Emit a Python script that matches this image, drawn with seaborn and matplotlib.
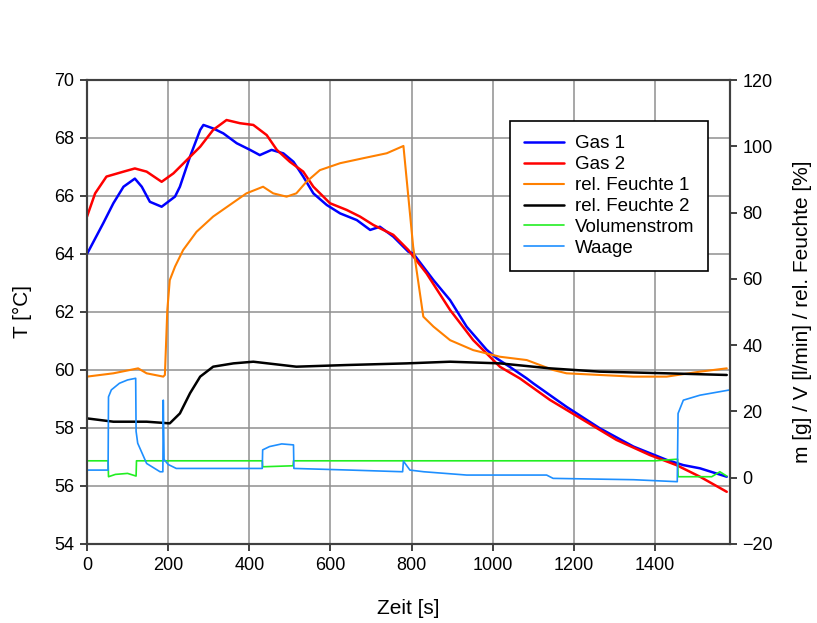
import matplotlib
matplotlib.use("Agg")
import matplotlib.pyplot as plt
import seaborn as sns
import pandas as pd

# ---------------- data ----------------
gas1_t = [0, 40, 65, 90, 118, 135, 155, 184, 217, 229, 254, 279, 287, 311, 336, 369, 402,
          426, 455, 484, 509, 533, 558, 591, 624, 665, 698, 722, 755, 792, 804, 854, 895,
          936, 985, 1010, 1043, 1084, 1100, 1182, 1264, 1347, 1429, 1470, 1511, 1577]
gas1_T = [64.0, 65.06, 65.75, 66.32, 66.6, 66.32, 65.8, 65.63, 65.98, 66.32, 67.36, 68.28,
          68.45, 68.33, 68.16, 67.82, 67.59, 67.41, 67.59, 67.47, 67.18, 66.67, 66.09, 65.69,
          65.4, 65.17, 64.83, 64.94, 64.6, 64.08, 64.02, 63.1, 62.41, 61.49, 60.7, 60.4, 60.1,
          59.71, 59.54, 58.73, 57.99, 57.36, 56.9, 56.72, 56.61, 56.32]

gas2_t = [0, 20, 48, 90, 118, 147, 184, 213, 246, 279, 311, 344, 377, 410, 443, 468, 500,
          533, 558, 599, 640, 673, 706, 755, 792, 837, 895, 952, 1018, 1067, 1141, 1223,
          1305, 1387, 1453, 1511, 1577]
gas2_T = [65.29, 66.09, 66.67, 66.84, 66.95, 66.84, 66.49, 66.78, 67.24, 67.7, 68.28, 68.62,
          68.51, 68.45, 68.1, 67.59, 67.18, 66.84, 66.32, 65.75, 65.52, 65.29, 65.0, 64.66,
          64.14, 63.33, 62.07, 61.03, 60.11, 59.71, 58.97, 58.28, 57.59, 57.07, 56.72, 56.32,
          55.8]

rh1_t = [0, 65, 126, 147, 188, 192, 198, 204, 217, 237, 270, 311, 352, 393, 434, 459, 492,
         516, 541, 574, 624, 681, 739, 780, 804, 829, 854, 895, 952, 1018, 1084, 1149, 1182,
         1264, 1347, 1429, 1511, 1577]
rh1_v = [30.5, 31.5, 33.0, 31.5, 30.5, 31.0, 50.6, 59.6, 63.7, 68.7, 74.2, 78.8, 82.3, 85.8,
         87.8, 85.8, 84.8, 85.8, 89.3, 92.8, 94.9, 96.4, 97.9, 100.1, 69.7, 48.6, 45.6, 41.5,
         38.5, 36.5, 35.5, 32.5, 31.5, 31.0, 30.5, 30.5, 32.0, 33.0]

rh2_t = [0, 65, 147, 204, 229, 254, 279, 311, 361, 410, 516, 640, 788, 895, 1018, 1141,
         1264, 1429, 1577]
rh2_v = [17.9, 16.9, 16.9, 16.4, 19.4, 25.5, 30.5, 33.5, 34.5, 35.0, 33.5, 34.0, 34.5, 35.0,
         34.5, 33.0, 32.0, 31.5, 31.0]

vol_t = [0, 52, 53, 70, 100, 121, 122, 432, 433, 508, 509, 1400, 1456, 1457, 1540, 1560, 1577]
vol_v = [5.1, 5.1, 0.3, 1.0, 1.3, 0.5, 5.1, 5.1, 3.3, 3.6, 5.1, 5.1, 5.6, 0.3, 0.3, 1.8, 0.5]

waage_t = [0, 52, 53, 60, 80, 100, 120, 121, 125, 147, 180, 187, 188, 190, 200, 220, 300,
           432, 433, 450, 480, 509, 510, 650, 778, 780, 796, 830, 936, 1133, 1149, 1347,
           1455, 1457, 1470, 1511, 1585]
waage_v = [2.3, 2.3, 24.4, 26.5, 28.5, 29.5, 30.0, 14.0, 10.4, 4.3, 1.8, 1.8, 23.4, 5.5, 4.0,
           2.8, 2.8, 2.8, 8.4, 9.4, 10.2, 9.9, 2.8, 2.3, 1.8, 5.0, 2.3, 1.8, 0.8, 0.8, -0.2,
           -0.6, -1.2, 19.4, 23.4, 24.9, 26.5]

x_ticks = [0, 200, 400, 600, 800, 1000, 1200, 1400]
left_ticks = [54, 56, 58, 60, 62, 64, 66, 68, 70]
right_ticks = [-20, 0, 20, 40, 60, 80, 100, 120]

# ---------------- plot ----------------
sns.set_theme(style="white")
plt.rcParams["font.family"] = ["Liberation Sans", "DejaVu Sans"]
plt.rcParams["text.color"] = "black"
plt.rcParams["axes.labelcolor"] = "black"

fig = plt.figure(figsize=(8.17, 6.23), dpi=100)
ax = fig.add_axes([87 / 817, 1 - 544 / 623, 643 / 817, 464 / 623])
ax2 = ax.twinx()

grid_c = "#8f8f8f"
spine_c = "#404040"

left_series = [
    ("Gas 1", gas1_t, gas1_T, "#0000ff", 1.8),
    ("Gas 2", gas2_t, gas2_T, "#ff0000", 1.8),
]
right_series = [
    ("rel. Feuchte 1", rh1_t, rh1_v, "#ff8000", 1.5),
    ("rel. Feuchte 2", rh2_t, rh2_v, "#000000", 1.8),
    ("Volumenstrom", vol_t, vol_v, "#22ee22", 1.2),
    ("Waage", waage_t, waage_v, "#1e8fff", 1.2),
]

handles = {}
for name, t, v, c, lw in left_series:
    df = pd.DataFrame({"t": t, "v": v})
    sns.lineplot(data=df, x="t", y="v", ax=ax, color=c, lw=lw, label=name, legend=False,
                 estimator=None, sort=False)
    handles[name] = ax.lines[-1]
for name, t, v, c, lw in right_series:
    df = pd.DataFrame({"t": t, "v": v})
    sns.lineplot(data=df, x="t", y="v", ax=ax2, color=c, lw=lw, label=name, legend=False,
                 estimator=None, sort=False)
    handles[name] = ax2.lines[-1]

ax.set_xlim(0, 1585)
ax.set_ylim(54, 70)
ax2.set_ylim(-20, 120)
ax.set_xticks(x_ticks)
ax.set_yticks(left_ticks)
ax2.set_yticks(right_ticks)

ax.grid(True, color=grid_c, lw=1.1)
ax2.grid(False)

for a in (ax, ax2):
    for s in a.spines.values():
        s.set_color(spine_c)
        s.set_linewidth(1.5)
    a.tick_params(direction="out", length=5, width=1.4, color=spine_c, labelsize=13,
                  labelcolor="black", pad=4)
ax.tick_params(axis="both", left=True, bottom=True)
ax2.tick_params(axis="y", right=True)

ax.set_xlabel("Zeit [s]", fontsize=15, labelpad=18, color="black")
ax.set_ylabel("T [°C]", fontsize=15, labelpad=16, color="black")
ax2.set_ylabel("m [g] / V [l/min] / rel. Feuchte [%]", fontsize=15, labelpad=14,
               color="black")

order = ["Gas 1", "Gas 2", "rel. Feuchte 1", "rel. Feuchte 2", "Volumenstrom", "Waage"]
leg = ax2.legend([handles[n] for n in order], order, loc="upper left",
                 bbox_to_anchor=(0.658, 0.911), fontsize=13.5, frameon=True, fancybox=False,
                 edgecolor="black", framealpha=1, borderpad=0.75, labelspacing=0.2,
                 handlelength=2.15, handletextpad=0.55, borderaxespad=0)
leg.get_frame().set_linewidth(1.2)
for txt in leg.get_texts():
    txt.set_color("black")

fig.savefig("out.png", dpi=100)
